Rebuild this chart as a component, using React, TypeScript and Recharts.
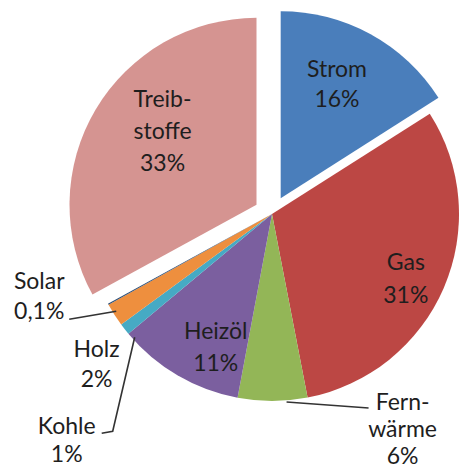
import React from 'react';
import { PieChart, Pie, Cell } from 'recharts';

// ---- data ----
const categories = ['Strom', 'Gas', 'Fernwärme', 'Heizöl', 'Kohle', 'Holz', 'Solar', 'Treibstoffe'];
const shares = [16, 31, 6, 11, 1, 2, 0.1, 33];
const shareLabels = ['16%', '31%', '6%', '11%', '1%', '2%', '0,1%', '33%'];
const nameLines = [['Strom'], ['Gas'], ['Fern-', 'wärme'], ['Heizöl'], ['Kohle'], ['Holz'], ['Solar'], ['Treib-', 'stoffe']];
const explodedCategories = ['Strom', 'Treibstoffe'];

// ---- styles / layout ----
const COLORS: Record<string, string> = {
  Strom: '#4A7EBB',
  Gas: '#BC4744',
  'Fernwärme': '#93B657',
  'Heizöl': '#7B5F9F',
  Kohle: '#46AAC4',
  Holz: '#EE8F3E',
  Solar: '#2C4D75',
  Treibstoffe: '#D59491',
};

const W = 460;
const H = 470;
const CX = 272;
const CY = 214;
const R = 187;
const EXPLODE = 18;
const FONT = 23;
const RAD = Math.PI / 180;

type Layout =
  | { kind: 'inside'; rf: number; da: number; lh: number }
  | { kind: 'outside'; tx: number; ty: number; line: number[][]; lh: number };

const LABEL_LAYOUT: Record<string, Layout> = {
  Strom: { kind: 'inside', rf: 0.683, da: 2.6, lh: 30 },
  Treibstoffe: { kind: 'inside', rf: 0.641, da: -7.7, lh: 32 },
  Gas: { kind: 'inside', rf: 0.794, da: -2.4, lh: 33 },
  'Heizöl': { kind: 'inside', rf: 0.771, da: 7.4, lh: 32 },
  'Fernwärme': { kind: 'outside', tx: 130, ty: 28, line: [[14, 1], [96, 7]], lh: 27 },
  Kohle: { kind: 'outside', tx: -58, ty: 111, line: [[10, 8], [-12, 102], [-23, 104]], lh: 28 },
  Holz: { kind: 'outside', tx: -18, ty: 49, line: [], lh: 30 },
  Solar: { kind: 'outside', tx: -69, ty: -9, line: [[8, 7], [-39, 15]], lh: 30 },
};

const data = categories.map((name, i) => ({ name, value: shares[i] }));
const total = shares.reduce((a, b) => a + b, 0);

function midAngleOf(i: number) {
  const before = shares.slice(0, i).reduce((a, b) => a + b, 0);
  return 90 - (360 * (before + shares[i] / 2)) / total;
}

function centerFor(name: string) {
  const i = categories.indexOf(name);
  const m = midAngleOf(i) * RAD;
  return { cx: CX + EXPLODE * Math.cos(m), cy: CY - EXPLODE * Math.sin(m) };
}

function makeLabel(visible: string[]) {
  return (p: any) => {
    const name: string = p.name ?? (p.payload && p.payload.name);
    if (!visible.includes(name)) return null;
    const i = categories.indexOf(name);
    const lines = [...nameLines[i], shareLabels[i]];
    const lay = LABEL_LAYOUT[name];
    const cx = Number(p.cx);
    const cy = Number(p.cy);
    const outerRadius = Number(p.outerRadius);
    const midAngle = Number(p.midAngle);
    let x = 0;
    let y = 0;
    let leader: React.ReactNode = null;
    if (lay.kind === 'inside') {
      const a = (midAngle + lay.da) * RAD;
      x = cx + outerRadius * lay.rf * Math.cos(a);
      y = cy - outerRadius * lay.rf * Math.sin(a);
    } else {
      const a = midAngle * RAD;
      const ex = cx + outerRadius * Math.cos(a);
      const ey = cy - outerRadius * Math.sin(a);
      x = ex + lay.tx;
      y = ey + lay.ty;
      if (lay.line.length > 1) {
        leader = (
          <polyline
            points={lay.line.map(([dx, dy]) => `${ex + dx},${ey + dy}`).join(' ')}
            fill="none"
            stroke="#333333"
            strokeWidth={1.6}
          />
        );
      }
    }
    const n = lines.length;
    return (
      <g key={`lbl-${name}`}>
        {leader}
        {lines.map((t, k) => (
          <text
            key={k}
            x={x}
            y={y + (k - (n - 1) / 2) * lay.lh + FONT * 0.36}
            textAnchor="middle"
            fontFamily="Lato, 'Open Sans', sans-serif"
            fontSize={FONT}
            fill="#1e1e1e"
          >
            {t}
          </text>
        ))}
      </g>
    );
  };
}

const mainVisible = categories.filter((c) => !explodedCategories.includes(c));

export default function App() {
  return (
    <div style={{ position: 'absolute', left: 0, top: 0, width: W, height: H, background: '#ffffff' }}>
      <PieChart width={W} height={H} margin={{ top: 0, right: 0, bottom: 0, left: 0 }}>
        <Pie
          data={data}
          dataKey="value"
          nameKey="name"
          cx={CX}
          cy={CY}
          outerRadius={R}
          startAngle={90}
          endAngle={-270}
          stroke="none"
          isAnimationActive={false}
          labelLine={false}
          label={makeLabel(mainVisible)}
        >
          {data.map((d) => (
            <Cell key={d.name} fill={mainVisible.includes(d.name) ? COLORS[d.name] : 'none'} stroke="none" />
          ))}
        </Pie>
        {explodedCategories.map((ex) => {
          const c = centerFor(ex);
          return (
            <Pie
              key={ex}
              data={data}
              dataKey="value"
              nameKey="name"
              cx={c.cx}
              cy={c.cy}
              outerRadius={R}
              startAngle={90}
              endAngle={-270}
              stroke="none"
              isAnimationActive={false}
              labelLine={false}
              label={makeLabel([ex])}
            >
              {data.map((d) => (
                <Cell key={d.name} fill={d.name === ex ? COLORS[d.name] : 'none'} stroke="none" />
              ))}
            </Pie>
          );
        })}
      </PieChart>
    </div>
  );
}
